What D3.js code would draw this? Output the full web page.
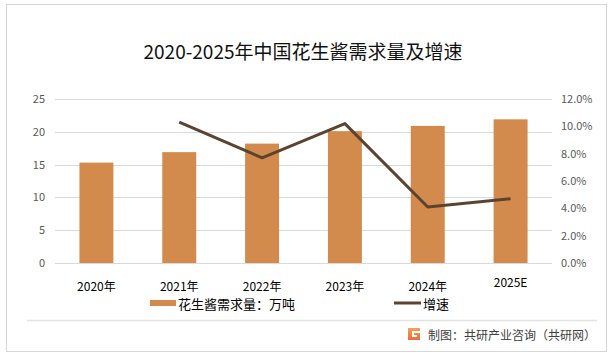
<!DOCTYPE html>
<html><head><meta charset="utf-8">
<script src="https://cdn.jsdelivr.net/npm/d3@7"></script>
<style>
html,body{margin:0;padding:0;background:#fff;}
svg{display:block;font-family:"Noto Sans CJK SC","Microsoft YaHei",sans-serif;}
</style></head>
<body><svg id="c" width="615" height="357"></svg>
<script>
const categories = ["2020年","2021年","2022年","2023年","2024年","2025E"];
const demand = [15.3, 16.9, 18.2, 20.1, 20.9, 21.9];
const growth = [null, 10.3, 7.7, 10.2, 4.1, 4.7];
const leftTicks = [0,5,10,15,20,25];
const rightTicks = [0,2,4,6,8,10,12];
const title = "2020-2025年中国花生酱需求量及增速";
const legendLabels = ["花生酱需求量：万吨","增速"];
const source = "制图：共研产业咨询（共研网）";

const svg = d3.select("#c");
const barColor = "#D38B4D", lineColor = "#5C4331";

// outer frame
svg.append("rect").attr("x",6.5).attr("y",4.5).attr("width",600).attr("height",347)
  .attr("fill","#fff").attr("stroke","#d6d6d6");

const x = d3.scaleBand().domain(categories).range([55,552]).paddingInner(0.59).paddingOuter(0.295);
const yL = d3.scaleLinear().domain([0,25]).range([263,99]);
const yR = d3.scaleLinear().domain([0,12]).range([263,99]);

// gridlines
svg.append("g").selectAll("line").data(leftTicks).join("line")
  .attr("x1",55).attr("x2",552).attr("y1",d=>Math.round(yL(d))+0.5).attr("y2",d=>Math.round(yL(d))+0.5)
  .attr("stroke","#d9d9d9").attr("stroke-width",1);

// title
svg.append("text").attr("x",303).attr("y",50).attr("text-anchor","middle")
  .attr("dominant-baseline","central").attr("font-size",19).attr("fill","#111").text(title);

// left axis
const la = svg.append("g").attr("transform","translate(49,0)")
  .call(d3.axisLeft(yL).tickValues(leftTicks).tickSize(0).tickPadding(4));
la.select(".domain").remove();
la.selectAll("text").attr("font-size",11).attr("fill","#595959").attr("font-family","Noto Sans CJK SC, sans-serif");

// right axis
const ra = svg.append("g").attr("transform","translate(557,0)")
  .call(d3.axisRight(yR).tickValues(rightTicks).tickSize(0).tickPadding(4).tickFormat(d=>d.toFixed(1)+"%"));
ra.select(".domain").remove();
ra.selectAll("text").attr("font-size",11).attr("fill","#595959").attr("font-family","Noto Sans CJK SC, sans-serif");

// bars
svg.append("g").selectAll("rect").data(demand).join("rect")
  .attr("x",(d,i)=>x(categories[i])).attr("width",x.bandwidth())
  .attr("y",d=>yL(d)).attr("height",d=>yL(0)-yL(d)).attr("fill",barColor);

// line
const pts = growth.map((g,i)=>({c:categories[i],g})).filter(p=>p.g!=null);
svg.append("path").datum(pts)
  .attr("d",d3.line().x(p=>x(p.c)+x.bandwidth()/2).y(p=>yR(p.g)))
  .attr("fill","none").attr("stroke",lineColor).attr("stroke-width",3).attr("stroke-linejoin","round");

// x labels
svg.append("g").selectAll("text").data(categories).join("text")
  .attr("x",d=>x(d)+x.bandwidth()/2).attr("y",d=>d.endsWith("E")?281:285)
  .attr("text-anchor","middle").attr("dominant-baseline","central")
  .attr("font-size",12).attr("fill","#000").text(d=>d);

// legend
svg.append("rect").attr("x",150).attr("y",300).attr("width",26).attr("height",6).attr("fill",barColor);
svg.append("text").attr("x",178).attr("y",303).attr("dominant-baseline","central")
  .attr("font-size",13).attr("fill","#000").text(legendLabels[0]);
svg.append("line").attr("x1",394).attr("x2",421).attr("y1",303).attr("y2",303)
  .attr("stroke",lineColor).attr("stroke-width",3);
svg.append("text").attr("x",423).attr("y",303).attr("dominant-baseline","central")
  .attr("font-size",13).attr("fill","#000").text(legendLabels[1]);

// footer separator
svg.append("line").attr("x1",27).attr("x2",597).attr("y1",320.5).attr("y2",320.5)
  .attr("stroke","#e3e3e3").attr("stroke-width",1.5);

// logo
const lg = svg.append("g").attr("transform","translate(408,328)");
const grad = svg.append("defs").append("linearGradient").attr("id","lgG").attr("x1",0).attr("y1",0).attr("x2",0).attr("y2",1);
grad.append("stop").attr("offset","0").attr("stop-color","#f6a15a");
grad.append("stop").attr("offset","1").attr("stop-color","#ee6a3a");
lg.append("path").attr("d","M0,0 H12 V3 H4 V9 H9 V7 H6 V5 H12 V12 H0 Z").attr("fill","url(#lgG)");

svg.append("text").attr("x",428).attr("y",334).attr("dominant-baseline","central")
  .attr("font-size",12).attr("fill","#404040").text(source);
</script></body></html>
